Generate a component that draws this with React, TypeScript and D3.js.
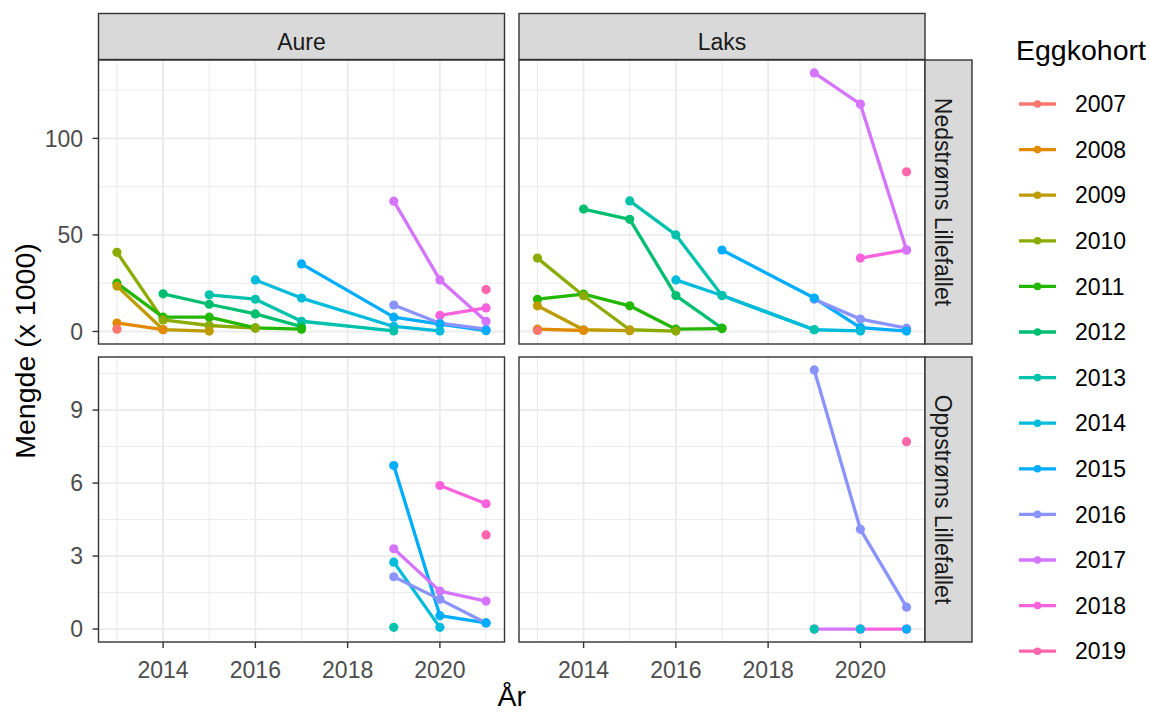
import React from 'react';
import * as d3 from 'd3';

// ---------- data ----------
const sampleYears = [2013, 2014, 2015, 2016, 2017, 2019, 2020, 2021];
const cohorts = ['2007', '2008', '2009', '2010', '2011', '2012', '2013', '2014', '2015', '2016', '2017', '2018', '2019'];
const cohortColors = ['#F8766D', '#E18A00', '#BE9C00', '#8CAB00', '#24B700', '#00BE70', '#00C1AB', '#00BBDA', '#00ACFC', '#8B93FF', '#D575FE', '#F962DD', '#FF65AC'];
const N = null;

// rows = cohorts, columns = sampleYears
const aureDown: (number | null)[][] = [
  [1.2, N, N, N, N, N, N, N],
  [4.4, 0.9, N, N, N, N, N, N],
  [23.5, 1.0, 0.2, N, N, N, N, N],
  [41, 6.0, 3.1, 1.7, N, N, N, N],
  [25, 7.4, 7.4, 1.9, 1.2, N, N, N],
  [N, 19.5, 14.1, 9.1, 2.5, N, N, N],
  [N, N, 19, 16.7, 5.3, 0.3, N, N],
  [N, N, N, 26.7, 17.3, 2.6, 0.3, N],
  [N, N, N, N, 35, 7.4, 3.8, 0.4],
  [N, N, N, N, N, 13.7, 4.3, 1.2],
  [N, N, N, N, N, 67.5, 26.7, 5.3],
  [N, N, N, N, N, N, 8.3, 12.2],
  [N, N, N, N, N, N, N, 21.7],
];
const laksDown: (number | null)[][] = [
  [0.5, N, N, N, N, N, N, N],
  [1.2, 0.5, N, N, N, N, N, N],
  [13.3, 0.9, 0.4, N, N, N, N, N],
  [38, 18.5, 0.9, 0.2, N, N, N, N],
  [16.7, 19.3, 13.3, 1.2, 1.5, N, N, N],
  [N, 63.4, 58.1, 18.6, 1.7, N, N, N],
  [N, N, 67.6, 50, 18.6, 0.9, N, N],
  [N, N, N, 26.7, 18.6, 0.9, 0.3, N],
  [N, N, N, N, 42.2, 17.3, 2.0, 0.2],
  [N, N, N, N, N, 16.7, 6.4, 1.7],
  [N, N, N, N, N, 133.9, 117.7, 42.2],
  [N, N, N, N, N, N, 38, 42.2],
  [N, N, N, N, N, N, N, 82.7],
];
const aureUp: (number | null)[][] = [
  [N, N, N, N, N, N, N, N],
  [N, N, N, N, N, N, N, N],
  [N, N, N, N, N, N, N, N],
  [N, N, N, N, N, N, N, N],
  [N, N, N, N, N, N, N, N],
  [N, N, N, N, N, N, N, N],
  [N, N, N, N, N, 0.07, N, N],
  [N, N, N, N, N, 2.75, 0.07, N],
  [N, N, N, N, N, 6.72, 0.55, 0.25],
  [N, N, N, N, N, 2.15, 1.22, 0.25],
  [N, N, N, N, N, 3.3, 1.56, 1.15],
  [N, N, N, N, N, N, 5.9, 5.15],
  [N, N, N, N, N, N, N, 3.87],
];
const laksUp: (number | null)[][] = [
  [N, N, N, N, N, N, N, N],
  [N, N, N, N, N, N, N, N],
  [N, N, N, N, N, N, N, N],
  [N, N, N, N, N, N, N, N],
  [N, N, N, N, N, N, N, N],
  [N, N, N, N, N, N, N, N],
  [N, N, N, N, N, 0, N, N],
  [N, N, N, N, N, N, 0, N],
  [N, N, N, N, N, N, N, 0],
  [N, N, N, N, N, 10.65, 4.1, 0.9],
  [N, N, N, N, N, 0, 0, N],
  [N, N, N, N, N, N, 0, 0],
  [N, N, N, N, N, N, N, 7.7],
];

const columnLabels = ['Aure', 'Laks'];
const rowLabels = ['Nedstrøms Lillefallet', 'Oppstrøms Lillefallet'];
const xMajorTicks = [2014, 2016, 2018, 2020];
const xMinorTicks = [2013, 2015, 2017, 2019, 2021];
const yMajorTicks = [[0, 50, 100], [0, 3, 6, 9]];
const yMinorTicks = [[25, 75, 125], [1.5, 4.5, 7.5, 10.5]];
const panelData = [[aureDown, laksDown], [aureUp, laksUp]];

// ---------- layout ----------
const W = 1150;
const H = 713;
const colX = [[98.5, 504.5], [519, 925]];
const rowY = [[60, 344], [357, 642]];
const stripTop = [13.5, 59.5];
const stripRight = [925, 972];
const FONT = "'Liberation Sans', Arial, Helvetica, sans-serif";
const SMALL = 23;
const TITLE = 28.5;

export default function App() {
  const xScales = colX.map((r) => d3.scaleLinear().domain([2012.6, 2021.4]).range(r));
  const yScales = rowY.map((r, ri) => {
    const vals: number[] = [];
    panelData[ri].forEach((p) => p.forEach((row) => row.forEach((v) => { if (v !== null) vals.push(v); })));
    const mn = d3.min(vals) as number;
    const mx = d3.max(vals) as number;
    const pad = (mx - mn) * 0.05;
    return d3.scaleLinear().domain([mn - pad, mx + pad]).range([r[1], r[0]]);
  });

  const panels: React.ReactNode[] = [];
  for (let ri = 0; ri < 2; ri++) {
    for (let ci = 0; ci < 2; ci++) {
      const xs = xScales[ci];
      const ys = yScales[ri];
      const [x0, x1] = colX[ci];
      const [y0, y1] = rowY[ri];
      const data = panelData[ri][ci];
      const line = d3.line<[number, number]>().x((d) => xs(d[0])).y((d) => ys(d[1]));
      panels.push(
        <g key={`p${ri}${ci}`}>
          <rect x={x0} y={y0} width={x1 - x0} height={y1 - y0} fill="#fff" />
          {yMinorTicks[ri].map((t) => (
            <line key={`ym${t}`} x1={x0} x2={x1} y1={ys(t)} y2={ys(t)} stroke="#EBEBEB" strokeWidth={1} />
          ))}
          {xMinorTicks.map((t) => (
            <line key={`xm${t}`} x1={xs(t)} x2={xs(t)} y1={y0} y2={y1} stroke="#EBEBEB" strokeWidth={1} />
          ))}
          {yMajorTicks[ri].map((t) => (
            <line key={`yM${t}`} x1={x0} x2={x1} y1={ys(t)} y2={ys(t)} stroke="#EBEBEB" strokeWidth={1.8} />
          ))}
          {xMajorTicks.map((t) => (
            <line key={`xM${t}`} x1={xs(t)} x2={xs(t)} y1={y0} y2={y1} stroke="#EBEBEB" strokeWidth={1.8} />
          ))}
          {data.map((row, k) => {
            const pts: [number, number][] = [];
            row.forEach((v, j) => { if (v !== null) pts.push([sampleYears[j], v]); });
            if (pts.length < 2) return null;
            return (
              <path key={`l${k}`} d={line(pts) as string} fill="none" stroke={cohortColors[k]} strokeWidth={3.3} strokeLinejoin="round" strokeLinecap="butt" />
            );
          })}
          {data.map((row, k) => ({ row, k })).reverse().map(({ row, k }) =>
            row.map((v, j) =>
              v === null ? null : (
                <circle key={`c${k}-${j}`} cx={xs(sampleYears[j])} cy={ys(v)} r={4.6} fill={cohortColors[k]} />
              )
            )
          )}
          <rect x={x0} y={y0} width={x1 - x0} height={y1 - y0} fill="none" stroke="#333333" strokeWidth={1.4} />
        </g>
      );
    }
  }

  return (
    <svg width={W} height={H} style={{ position: 'absolute', left: 0, top: 0, background: '#fff' }} fontFamily={FONT}>
      <rect x={0} y={0} width={W} height={H} fill="#fff" />
      {panels}
      {/* top strips */}
      {columnLabels.map((lab, ci) => (
        <g key={`st${ci}`}>
          <rect x={colX[ci][0]} y={stripTop[0]} width={colX[ci][1] - colX[ci][0]} height={stripTop[1] - stripTop[0]} fill="#D9D9D9" stroke="#333333" strokeWidth={1.4} />
          <text x={(colX[ci][0] + colX[ci][1]) / 2} y={50} textAnchor="middle" fontSize={SMALL} fill="#1A1A1A">{lab}</text>
        </g>
      ))}
      {/* right strips */}
      {rowLabels.map((lab, ri) => {
        const cy = (rowY[ri][0] + rowY[ri][1]) / 2;
        return (
          <g key={`sr${ri}`}>
            <rect x={stripRight[0]} y={rowY[ri][0]} width={stripRight[1] - stripRight[0]} height={rowY[ri][1] - rowY[ri][0]} fill="#D9D9D9" stroke="#333333" strokeWidth={1.4} />
            <text transform={`translate(${stripRight[0] + 10},${cy}) rotate(90)`} textAnchor="middle" fontSize={SMALL} fill="#1A1A1A">{lab}</text>
          </g>
        );
      })}
      {/* x axis ticks */}
      {xScales.map((xs, ci) => (
        <g key={`xa${ci}`}>
          {xMajorTicks.map((t) => (
            <g key={t}>
              <line x1={xs(t)} x2={xs(t)} y1={rowY[1][1]} y2={rowY[1][1] + 6} stroke="#333333" strokeWidth={1.4} />
              <text x={xs(t)} y={678} textAnchor="middle" fontSize={SMALL} fill="#4D4D4D">{t}</text>
            </g>
          ))}
        </g>
      ))}
      {/* y axis ticks */}
      {yScales.map((ys, ri) => (
        <g key={`ya${ri}`}>
          {yMajorTicks[ri].map((t) => (
            <g key={t}>
              <line x1={colX[0][0] - 6} x2={colX[0][0]} y1={ys(t)} y2={ys(t)} stroke="#333333" strokeWidth={1.4} />
              <text x={83} y={ys(t)} dy="0.36em" textAnchor="end" fontSize={SMALL} fill="#4D4D4D">{t}</text>
            </g>
          ))}
        </g>
      ))}
      {/* axis titles */}
      <text x={(colX[0][0] + colX[1][1]) / 2} y={706} textAnchor="middle" fontSize={TITLE} fill="#000">År</text>
      <text transform={`translate(35,${(rowY[0][0] + rowY[1][1]) / 2}) rotate(-90)`} textAnchor="middle" fontSize={TITLE} fill="#000">Mengde (x 1000)</text>
      {/* legend */}
      <text x={1016} y={60} fontSize={TITLE} fill="#000">Eggkohort</text>
      {cohorts.map((c, i) => {
        const y = 104 + i * 45.6;
        return (
          <g key={c}>
            <line x1={1019} x2={1056} y1={y} y2={y} stroke={cohortColors[i]} strokeWidth={3.3} />
            <circle cx={1037.5} cy={y} r={3.8} fill={cohortColors[i]} />
            <text x={1075} y={y} dy="0.36em" fontSize={SMALL} fill="#000">{c}</text>
          </g>
        );
      })}
    </svg>
  );
}
